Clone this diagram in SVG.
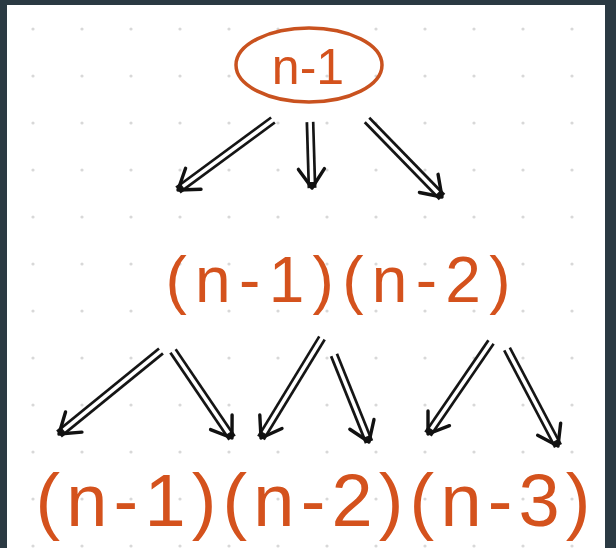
<svg xmlns="http://www.w3.org/2000/svg" width="616" height="548" viewBox="0 0 616 548">
<defs>
<pattern id="dots" x="10" y="8" width="49" height="47" patternUnits="userSpaceOnUse">
<circle cx="23" cy="21" r="1.6" fill="#d8d8d8"/>
</pattern>
<marker id="head" markerUnits="userSpaceOnUse" markerWidth="40" markerHeight="40" refX="0" refY="0" viewBox="-30 -20 40 40" orient="auto" overflow="visible">
<path d="M-19,-13 L0,0 L-19,13" fill="none" stroke="#111" stroke-width="3.4" stroke-linecap="round" stroke-linejoin="round"/>
</marker>
<style>
.lbl{font-family:"Liberation Sans","DejaVu Sans",sans-serif;fill:#d4521d;text-anchor:middle}
.outer{stroke:#151515;stroke-width:9;fill:none;stroke-linecap:butt}
.inner{stroke:#ffffff;stroke-width:3.6;fill:none;stroke-linecap:butt}
.tip{stroke:none;fill:none;marker-end:url(#head)}
</style>
</defs>
<rect x="0" y="0" width="616" height="548" fill="#2b3a43"/>
<rect x="7" y="5" width="598" height="543" fill="#ffffff"/>
<rect x="7" y="5" width="598" height="543" fill="url(#dots)"/>

<g id="node-top">
<ellipse cx="309" cy="65" rx="73" ry="37" fill="none" stroke="#c9521f" stroke-width="3.5"/>
<text class="lbl" x="308" y="84" font-size="50">n-1</text>
</g>

<g id="node-middle">
<text class="lbl" x="338" y="302" font-size="64" textLength="345" lengthAdjust="spacing">(n-1)(n-2)</text>
</g>

<g id="node-bottom">
<text class="lbl" x="313" y="526" font-size="74" textLength="555" lengthAdjust="spacing">(n-1)(n-2)(n-3)</text>
</g>

<g id="connectors">
<g><line class="outer" x1="273" y1="120" x2="178" y2="190"/><line class="inner" x1="274.6" y1="118.8" x2="182.8" y2="186.4"/><line class="tip" x1="273" y1="120" x2="178" y2="190"/></g>
<g><line class="outer" x1="310" y1="122" x2="312" y2="188"/><line class="inner" x1="310" y1="120" x2="311.8" y2="182"/><line class="tip" x1="310" y1="122" x2="312" y2="188"/></g>
<g><line class="outer" x1="367" y1="120" x2="442" y2="197"/><line class="inner" x1="365.6" y1="118.6" x2="437.8" y2="192.7"/><line class="tip" x1="367" y1="120" x2="442" y2="197"/></g>
<g><line class="outer" x1="161" y1="351" x2="59" y2="434"/><line class="inner" x1="162.6" y1="349.7" x2="63.7" y2="430.2"/><line class="tip" x1="161" y1="351" x2="59" y2="434"/></g>
<g><line class="outer" x1="173" y1="351" x2="232" y2="438"/><line class="inner" x1="171.9" y1="349.3" x2="228.6" y2="433"/><line class="tip" x1="173" y1="351" x2="232" y2="438"/></g>
<g><line class="outer" x1="322" y1="338" x2="261" y2="438"/><line class="inner" x1="323" y1="336.3" x2="264.1" y2="432.9"/><line class="tip" x1="322" y1="338" x2="261" y2="438"/></g>
<g><line class="outer" x1="334" y1="355" x2="369" y2="442"/><line class="inner" x1="333.3" y1="353.1" x2="366.8" y2="436.4"/><line class="tip" x1="334" y1="355" x2="369" y2="442"/></g>
<g><line class="outer" x1="491" y1="342" x2="428" y2="434"/><line class="inner" x1="492.1" y1="340.4" x2="431.4" y2="429"/><line class="tip" x1="491" y1="342" x2="428" y2="434"/></g>
<g><line class="outer" x1="507" y1="349" x2="558" y2="446"/><line class="inner" x1="506.1" y1="347.2" x2="555.2" y2="440.7"/><line class="tip" x1="507" y1="349" x2="558" y2="446"/></g>
</g>
</svg>
